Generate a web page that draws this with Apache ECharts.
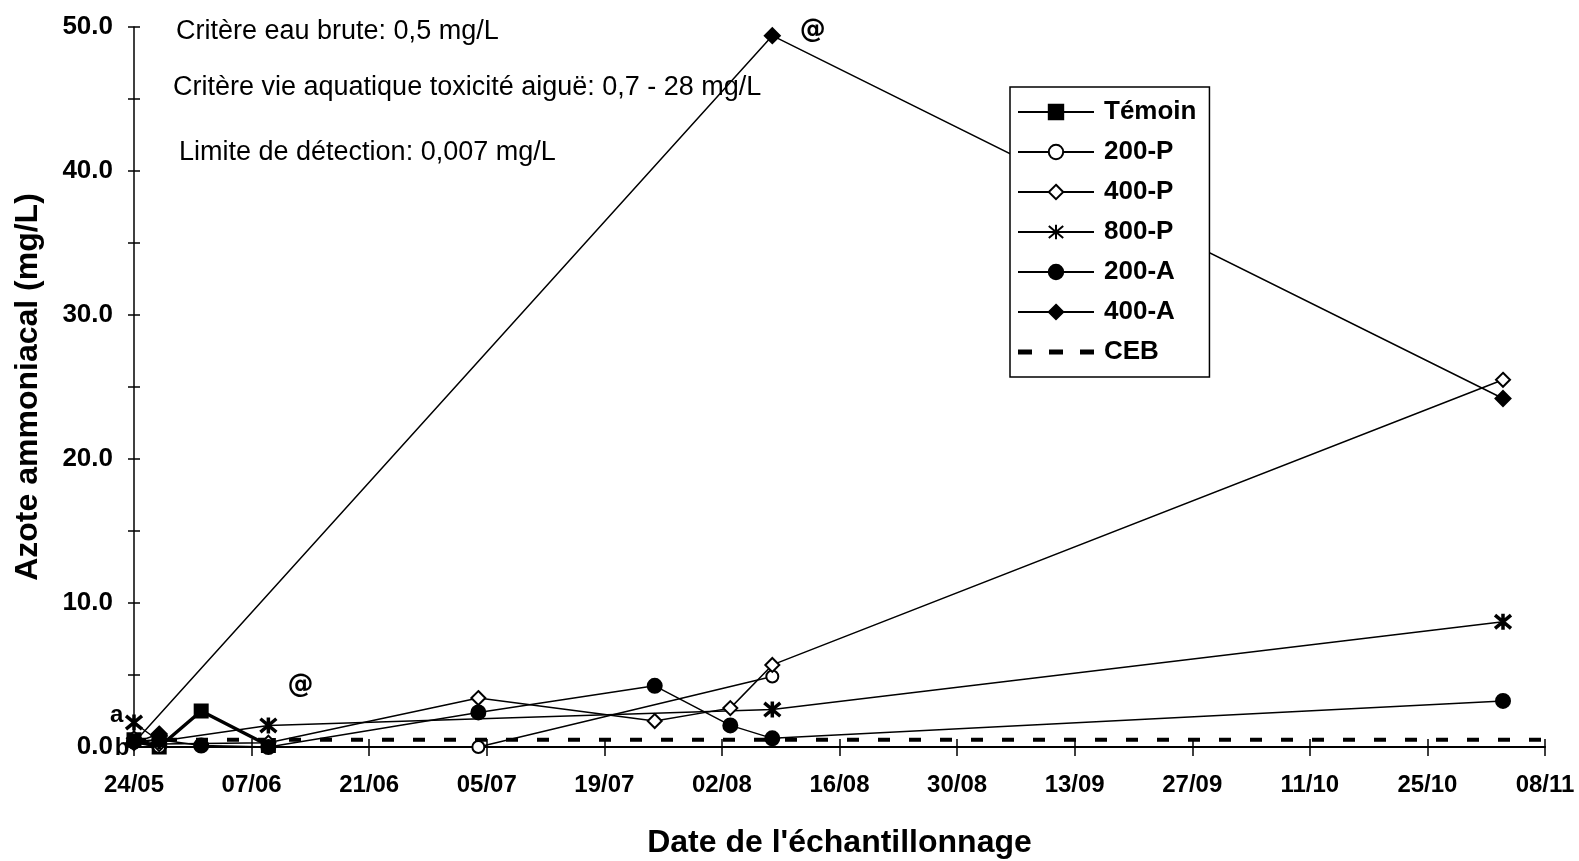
<!DOCTYPE html>
<html>
<head>
<meta charset="utf-8">
<script src="https://cdn.jsdelivr.net/npm/echarts@6/dist/echarts.min.js"></script>
<style>
  html, body { margin: 0; padding: 0; background: #fff; }
  #chart { width: 1579px; height: 861px; }
</style>
</head>
<body>
<div id="chart"></div>
<script>
// Sampling dates (dd/mm) and ammonia nitrogen values (mg/L) per treatment
const xTickLabels = ['24/05','07/06','21/06','05/07','19/07','02/08','16/08','30/08','13/09','27/09','11/10','25/10','08/11'];

const temoinDates  = ['24/05','27/05','01/06','09/06'];
const temoinValues = [0.5, 0.0, 2.5, 0.1];

const p200Dates  = ['24/05','27/05','04/07','08/08'];
const p200Values = [0.3, 0.0, 0.0, 4.9];

const p400Dates  = ['24/05','27/05','09/06','04/07','25/07','03/08','08/08','03/11'];
const p400Values = [0.6, 0.2, 0.3, 3.4, 1.8, 2.7, 5.7, 25.5];

const p800Dates  = ['24/05','27/05','09/06','08/08','03/11'];
const p800Values = [1.7, 0.4, 1.5, 2.6, 8.7];

const a200Dates  = ['24/05','27/05','01/06','09/06','04/07','25/07','03/08','08/08','03/11'];
const a200Values = [0.4, 0.5, 0.1, 0.0, 2.4, 4.25, 1.5, 0.6, 3.2];

const a400Dates  = ['27/05','24/05','08/08','03/11'];
const a400Values = [0.9, 0.3, 49.4, 24.2];

const cebDates  = ['24/05','08/11'];
const cebValues = [0.5, 0.5];

const notes = [
  { series: '800-P',  date: '24/05', text: 'a' },
  { series: 'Témoin', date: '24/05', text: 'b' },
  { series: '800-P',  date: '09/06', text: '@' },
  { series: '400-A',  date: '08/08', text: '@' }
];

const criteria = [
  'Critère eau brute: 0,5 mg/L',
  'Critère vie aquatique toxicité aiguë: 0,7 - 28 mg/L',
  'Limite de détection: 0,007 mg/L'
];

const FONT = '"Liberation Sans", Arial, sans-serif';
const AT_FONT = '"DejaVu Sans", "Liberation Sans", sans-serif';

function dayOffset(s) {
  const [d, m] = s.split('/').map(Number);
  return (Date.UTC(2001, m - 1, d) - Date.UTC(2001, 4, 24)) / 86400000;
}

const noteStyle = {
  'a|24/05': { position: 'left', offset: [4, -7], fontSize: 24, font: FONT },
  'b|24/05': { position: 'left', offset: [8, 9], fontSize: 24, font: FONT },
  '@|09/06': { position: 'top', offset: [32, -12], fontSize: 26, font: AT_FONT },
  '@|08/08': { position: 'right', offset: [14, -5], fontSize: 26, font: AT_FONT }
};

function build(name, dates, values) {
  return dates.map((d, i) => {
    const item = { value: [dayOffset(d), values[i]] };
    const n = notes.find(o => o.series === name && o.date === d);
    if (n) {
      const st = noteStyle[n.text + '|' + d];
      item.label = {
        show: true, formatter: n.text, position: st.position, offset: st.offset,
        color: '#000', fontFamily: st.font, fontWeight: 'bold', fontSize: st.fontSize
      };
    }
    return item;
  });
}

const starPath = 'path://M1,1L11,11M11,1L1,11M6,0L6,12';
const dashIcon = 'path://M0,0h14v5h-14z M31,0h14v5h-14z M62,0h14v5h-14z';

const thin = { color: '#000', width: 1.5 };

function lineSeries(name, dates, values, symbol, size, fill, extra) {
  return Object.assign({
    name, type: 'line', data: build(name, dates, values),
    symbol, symbolSize: size, showAllSymbol: true,
    lineStyle: thin,
    itemStyle: { color: fill, borderColor: '#000', borderWidth: 2 },
    emphasis: { disabled: true },
    xAxisIndex: 0, yAxisIndex: 0
  }, extra || {});
}

const series = [
  lineSeries('Témoin', temoinDates, temoinValues, 'rect', 13, '#000', { lineStyle: { color: '#000', width: 3.5 } }),
  lineSeries('200-P', p200Dates, p200Values, 'circle', 12, '#fff'),
  lineSeries('400-P', p400Dates, p400Values, 'diamond', 14, '#fff'),
  lineSeries('800-P', p800Dates, p800Values, starPath, 16, '#000', { itemStyle: { color: '#000', borderColor: '#000', borderWidth: 3.5 } }),
  lineSeries('200-A', a200Dates, a200Values, 'circle', 14, '#000'),
  lineSeries('400-A', a400Dates, a400Values, 'diamond', 15, '#000'),
  {
    name: 'CEB', type: 'line', data: build('CEB', cebDates, cebValues),
    symbol: 'none', z: 1,
    lineStyle: { color: '#000', width: 4, type: [12, 19] },
    itemStyle: { color: '#000' },
    emphasis: { disabled: true }
  }
];

const gridBox = { left: 134, right: 34, top: 27, bottom: 114, outerBoundsMode: 'none', containLabel: false };

const chart = echarts.init(document.getElementById('chart'), null, { renderer: 'canvas' });
chart.setOption({
  animation: false,
  backgroundColor: '#fff',
  grid: [Object.assign({}, gridBox), Object.assign({}, gridBox)],
  xAxis: [
    {
      type: 'value', gridIndex: 0, min: 0, max: 168, interval: 14,
      name: "Date de l'échantillonnage", nameLocation: 'middle', nameGap: 80,
      nameTextStyle: { fontFamily: FONT, fontWeight: 'bold', fontSize: 32, color: '#000' },
      axisLine: { show: true, onZero: false, lineStyle: { color: '#000', width: 2 } },
      axisTick: { show: true, length: 9, lineStyle: { color: '#000', width: 1.5 } },
      axisLabel: {
        margin: 26, color: '#000', fontFamily: FONT, fontWeight: 'bold', fontSize: 24,
        formatter: v => xTickLabels[Math.round(v / 14)] || ''
      },
      splitLine: { show: false }
    },
    {
      type: 'value', gridIndex: 1, min: 0, max: 168, interval: 14,
      axisLine: { show: false },
      axisTick: { show: true, inside: true, length: 8, lineStyle: { color: '#000', width: 1.5 } },
      axisLabel: { show: false }, splitLine: { show: false }
    }
  ],
  yAxis: [
    {
      type: 'value', gridIndex: 0, min: 0, max: 50, interval: 5,
      name: 'Azote ammoniacal (mg/L)', nameLocation: 'middle', nameGap: 90,
      nameTextStyle: { fontFamily: FONT, fontWeight: 'bold', fontSize: 32, color: '#000' },
      axisLine: { show: true, onZero: false, lineStyle: { color: '#000', width: 1.5 } },
      axisTick: { show: true, length: 6, lineStyle: { color: '#000', width: 1.5 } },
      axisLabel: {
        margin: 21, color: '#000', fontFamily: FONT, fontWeight: 'bold', fontSize: 26,
        formatter: v => (v % 10 === 0 ? v.toFixed(1) : '')
      },
      splitLine: { show: false }
    },
    {
      type: 'value', gridIndex: 1, min: 0, max: 50, interval: 5,
      axisLine: { show: false },
      axisTick: { show: true, inside: true, length: 6, lineStyle: { color: '#000', width: 1.5 } },
      axisLabel: { show: false }, splitLine: { show: false }
    }
  ],
  legend: {
    orient: 'vertical', left: 1010, top: 87,
    padding: [12, 13, 12, 7],
    itemWidth: 76, itemHeight: 18, itemGap: 14,
    backgroundColor: '#fff', borderColor: '#000', borderWidth: 1.5,
    textStyle: { fontFamily: FONT, fontWeight: 'bold', fontSize: 26, color: '#000', padding: [0, 0, 0, 5] },
    data: ['Témoin', '200-P', '400-P', '800-P', '200-A', '400-A', { name: 'CEB', icon: dashIcon }]
  },
  graphic: criteria.map((t, i) => ({
    type: 'text',
    left: [176, 173, 179][i],
    top: [18, 74, 139][i],
    style: { text: t, fontFamily: FONT, fontSize: 27, fill: '#000' }
  })),
  series
});
</script>
</body>
</html>
